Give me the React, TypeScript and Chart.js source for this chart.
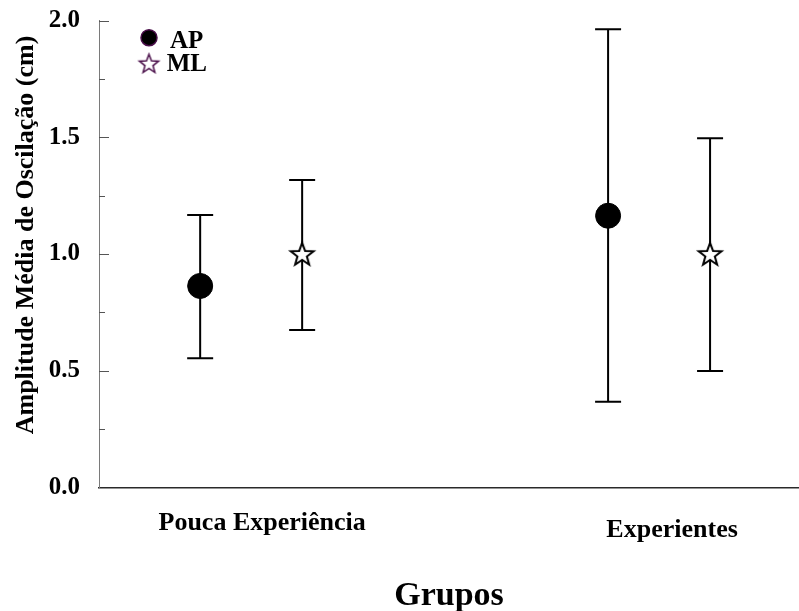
import React, { useEffect, useRef } from 'react';
import { Chart, registerables } from 'chart.js';

Chart.register(...registerables);

// ---- data ----
const categories = ['Pouca Experiência', 'Experientes'];
const seriesNames = ['AP', 'ML'];
const groupPositions = [1, 2];
const seriesOffsets = [-0.125, 0.125];
const apMeans = [0.863, 1.164];
const apLower = [0.553, 0.367];
const apUpper = [1.167, 1.963];
const mlMeans = [0.996, 0.996];
const mlLower = [0.674, 0.498];
const mlUpper = [1.317, 1.496];
const yMin = 0;
const yMax = 2;
const yMajorStep = 0.5;
const yMinorStep = 0.25;
const yTitle = 'Amplitude Média de Oscilação (cm)';
const xTitle = 'Grupos';

const FONT = '"Liberation Serif", "Times New Roman", Times, serif';

function makeStar(outerR: number, innerR: number, stroke: string, fill: string, lw: number) {
  const size = Math.ceil(2 * outerR + lw * 2 + 2);
  const c = document.createElement('canvas');
  c.width = size;
  c.height = size;
  const ctx = c.getContext('2d')!;
  ctx.translate(size / 2, size / 2);
  ctx.beginPath();
  for (let i = 0; i < 10; i++) {
    const r = i % 2 === 0 ? outerR : innerR;
    const a = -Math.PI / 2 + (i * Math.PI) / 5;
    const px = r * Math.cos(a);
    const py = r * Math.sin(a);
    if (i === 0) ctx.moveTo(px, py);
    else ctx.lineTo(px, py);
  }
  ctx.closePath();
  ctx.fillStyle = fill;
  ctx.fill();
  ctx.lineWidth = lw;
  ctx.lineJoin = 'miter';
  ctx.strokeStyle = stroke;
  ctx.stroke();
  return c;
}

export default function App() {
  const ref = useRef<HTMLCanvasElement | null>(null);

  useEffect(() => {
    document.body.style.margin = '0';
    const canvas = ref.current;
    if (!canvas) return;

    const dataStar = makeStar(12, 5, '#000000', '#ffffff', 2);
    const legendStar = makeStar(10, 4.2, '#4a0f4a', '#ffffff', 1.5);

    const seriesData = [
      { means: apMeans, lower: apLower, upper: apUpper },
      { means: mlMeans, lower: mlLower, upper: mlUpper },
    ];

    const errorBars = {
      id: 'errorBars',
      beforeDatasetsDraw(chart: any) {
        const { ctx } = chart;
        const xs = chart.scales.x;
        const ys = chart.scales.y;
        ctx.save();
        ctx.strokeStyle = '#000';
        ctx.lineWidth = 2;
        seriesData.forEach((s, si) => {
          s.means.forEach((_, gi) => {
            const x = xs.getPixelForValue(groupPositions[gi] + seriesOffsets[si]);
            const yl = ys.getPixelForValue(s.lower[gi]);
            const yu = ys.getPixelForValue(s.upper[gi]);
            ctx.beginPath();
            ctx.moveTo(x, yl);
            ctx.lineTo(x, yu);
            ctx.moveTo(x - 13, yu);
            ctx.lineTo(x + 13, yu);
            ctx.moveTo(x - 13, yl);
            ctx.lineTo(x + 13, yl);
            ctx.stroke();
          });
        });
        ctx.restore();
      },
    };

    const axisDecor = {
      id: 'axisDecor',
      afterDraw(chart: any) {
        const { ctx, chartArea } = chart;
        const xs = chart.scales.x;
        const ys = chart.scales.y;
        ctx.save();
        // inward tick marks on y axis
        ctx.strokeStyle = '#555';
        ctx.lineWidth = 1;
        for (let v = yMin; v <= yMax + 1e-9; v += yMinorStep) {
          const major = Math.abs(v / yMajorStep - Math.round(v / yMajorStep)) < 1e-6;
          if (v === yMin) continue;
          const y = Math.round(ys.getPixelForValue(v)) + 0.5;
          ctx.beginPath();
          ctx.moveTo(chartArea.left, y);
          ctx.lineTo(chartArea.left + (major ? 10 : 6), y);
          ctx.stroke();
        }

        ctx.fillStyle = '#000';
        // y axis title
        ctx.save();
        ctx.font = `bold 26px ${FONT}`;
        ctx.textAlign = 'center';
        ctx.textBaseline = 'alphabetic';
        ctx.translate(32.5, (chartArea.top + chartArea.bottom) / 2 - 19);
        ctx.rotate(-Math.PI / 2);
        ctx.fillText(yTitle, 0, 0);
        ctx.restore();

        // category labels
        ctx.font = `bold 26px ${FONT}`;
        ctx.textAlign = 'center';
        ctx.textBaseline = 'alphabetic';
        const labelShift = [[11, 43], [13, 50]];
        categories.forEach((c, i) => {
          const x = xs.getPixelForValue(groupPositions[i]) + labelShift[i][0];
          ctx.fillText(c, x, chartArea.bottom + labelShift[i][1]);
        });

        // legend
        const lx = chartArea.left + 50;
        const ly = chartArea.top + 17;
        ctx.beginPath();
        ctx.arc(lx, ly, 8, 0, Math.PI * 2);
        ctx.fillStyle = '#000';
        ctx.fill();
        ctx.lineWidth = 1.5;
        ctx.strokeStyle = '#4a0f4a';
        ctx.stroke();
        ctx.drawImage(legendStar, lx - legendStar.width / 2, ly + 25 - legendStar.height / 2 + 1.6);
        ctx.fillStyle = '#000';
        ctx.font = `bold 25px ${FONT}`;
        ctx.textAlign = 'left';
        ctx.fillText(seriesNames[0], lx + 21, ly + 10);
        ctx.fillText(seriesNames[1], lx + 17.7, ly + 33.3);
        ctx.restore();
      },
    };

    const chart = new Chart(canvas, {
      type: 'scatter',
      data: {
        datasets: [
          {
            label: seriesNames[0],
            data: apMeans.map((v, i) => ({ x: groupPositions[i] + seriesOffsets[0], y: v })),
            pointStyle: 'circle',
            pointRadius: 12.5,
            pointBackgroundColor: '#000',
            pointBorderColor: '#000',
            pointBorderWidth: 1,
          },
          {
            label: seriesNames[1],
            data: mlMeans.map((v, i) => ({ x: groupPositions[i] + seriesOffsets[1], y: v })),
            pointStyle: dataStar as any,
            pointRadius: 12,
          },
        ],
      },
      options: {
        responsive: false,
        animation: false,
        events: [],
        layout: { autoPadding: false, padding: { top: 20.7, right: 0, bottom: 0, left: 0 } },
        plugins: {
          legend: { display: false },
          tooltip: { enabled: false },
        },
        scales: {
          x: {
            type: 'linear',
            position: 'bottom',
            min: 0.627,
            max: 2.343,
            grid: { display: false, drawTicks: false },
            border: { display: true, color: '#2a2a2a', width: 1.5 },
            ticks: { display: false },
            title: {
              display: true,
              text: xTitle,
              color: '#000',
              font: { family: FONT, size: 34, weight: 'bold' },
              padding: { top: 0, bottom: -6 },
            },
            afterFit(scale: any) {
              scale.height = 123.7;
              scale.paddingLeft = 0;
              scale.paddingRight = 0;
            },
          },
          y: {
            type: 'linear',
            position: 'left',
            min: yMin,
            max: yMax,
            grid: { display: false, drawTicks: false },
            border: { display: true, color: '#7a7a7a', width: 1 },
            ticks: {
              stepSize: yMajorStep,
              padding: 19,
              color: '#000',
              font: { family: FONT, size: 25, weight: 'bold' },
              callback: (v: any) => Number(v).toFixed(1),
            },
            afterFit(scale: any) {
              scale.width = 99;
              scale.paddingTop = 0;
              scale.paddingBottom = 0;
            },
          },
        },
      },
      plugins: [errorBars, axisDecor],
    } as any);

    return () => chart.destroy();
  }, []);

  return (
    <div style={{ position: 'fixed', left: 0, top: 0, width: 799, height: 611, background: '#fff' }}>
      <canvas ref={ref} width={799} height={611} style={{ display: 'block' }} />
    </div>
  );
}
